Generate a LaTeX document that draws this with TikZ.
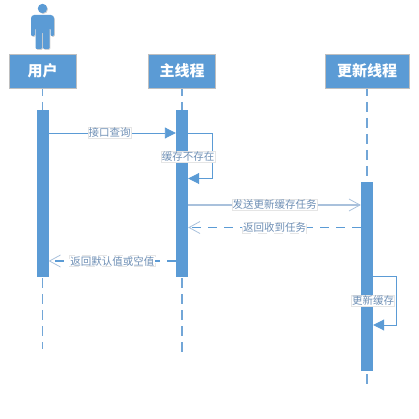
\documentclass[tikz,border=0pt]{standalone}
\usepackage{fontspec}
\setmainfont{Noto Sans CJK SC}
\usetikzlibrary{arrows.meta,shadows}
\definecolor{blu}{HTML}{5B9BD5}
\definecolor{lgt}{HTML}{A9C1DC}
\definecolor{txtc}{HTML}{6E8FB5}
\tikzset{
 sh/.style={drop shadow={shadow xshift=0.8pt,shadow yshift=-0.8pt,opacity=.3,fill=black!60}},
 head/.style={rectangle,fill=blu,draw=black!25,line width=.6pt,sh,text=white,font=\bfseries\fontsize{15}{15}\selectfont,inner sep=0pt,minimum height=34pt},
 bar/.style={rectangle,fill=blu,draw=none,minimum width=12pt,inner sep=0pt},
 life/.style={draw=blu!70!lgt,line width=1.1pt,dash pattern=on 10pt off 6pt,dash phase=2pt},
 lab/.style={fill=white,draw=black!10,line width=.4pt,text=txtc,font=\fontsize{10.5}{10.5}\selectfont,inner sep=.6pt},
 sync/.style={draw=blu,line width=.9pt,-{Triangle[length=11pt,width=11pt,fill=blu]}},
 open/.style={draw=lgt,line width=1.2pt,-{Straight Barb[length=11pt,width=12pt,line width=.8pt]}},
 ret/.style={draw=blu,line width=1.2pt,dash pattern=on 9pt off 7pt,-{Straight Barb[length=11pt,width=12pt,line width=.8pt,lgt]}},
}
\begin{document}
\begin{tikzpicture}[x=1pt,y=-1pt]
\useasboundingbox (0,0) rectangle (418,419);
% actor
\fill[blu,sh] (42.5,8.5) circle (4.7);
\fill[blu,sh,rounded corners=1.2pt] (33,15) -- (52,15) -- (54,17) -- (54,36) -- (50.5,36) -- (50.5,28) -- (49.5,28) -- (49.5,49) -- (43,49) -- (43,32) -- (42,32) -- (42,49) -- (35.5,49) -- (35.5,28) -- (34.8,28) -- (34.8,36) -- (31,36) -- (31,17) -- cycle;
% lifelines
\coordinate (u0) at (42.5,88); \coordinate (u1) at (42.5,349);
\coordinate (m0) at (182,88); \coordinate (m1) at (182,354);
\coordinate (g0) at (367,88); \coordinate (g1) at (367,386);
\draw[life] (u0) -- (u1);
\draw[life] (m0) -- (m1);
\draw[life] (g0) -- (g1);
% headers
\node[head,minimum width=67pt] (hu) at (42.5,71) {用户};
\node[head,minimum width=67pt] (hm) at (182,71) {主线程};
\node[head,minimum width=84pt] (hg) at (367,71) {更新线程};
% bars
\node[bar,minimum height=167pt] (bu) at (42.5,193.5) {};
\node[bar,minimum height=167pt] (bm) at (182,193.5) {};
\node[bar,minimum height=189pt] (bg) at (367,276.5) {};
% messages
\draw[sync] (bu.east |- 0,133) -- (bm.west |- 0,133) node[lab,pos=.48] (l1) {接口查询};
\draw[draw=blu,line width=.9pt,-{Triangle[length=11pt,width=11pt,fill=blu]}] (bm.east |- 0,133) -- (212,133) -- (212,178.5) -- (bm.east |- 0,178.5);
\node[lab] (l2) at (188,157) {缓存不存在};
\draw[open] (bm.east |- 0,205) -- (bg.west |- 0,205) node[lab,pos=.5] (l3) {发送更新缓存任务};
\draw[ret] (bg.west |- 0,227.5) -- (bm.east |- 0,227.5) node[lab,pos=.5] (l4) {返回收到任务};
\draw[ret] (bm.west |- 0,261) -- (bu.east |- 0,261) node[lab,pos=.5] (l5) {返回默认值或空值};
\draw[draw=blu,line width=.9pt,-{Triangle[length=11pt,width=11pt,fill=blu]}] (bg.east |- 0,276.5) -- (396.5,276.5) -- (396.5,325) -- (bg.east |- 0,325);
\node[lab] (l6) at (373,301) {更新缓存};
\end{tikzpicture}
\end{document}
